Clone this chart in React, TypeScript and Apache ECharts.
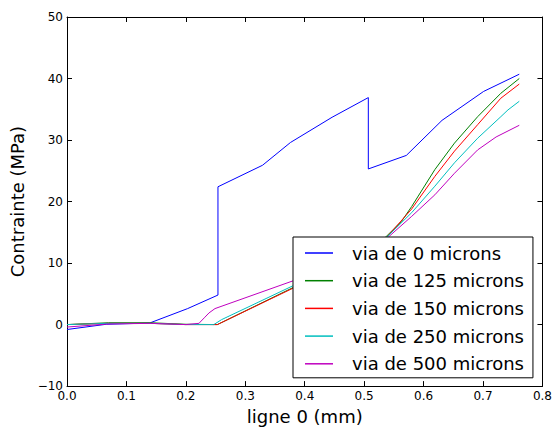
import React, { useEffect, useRef } from "react";
import * as echarts from "echarts";

const seriesNames = [
  "via de 0 microns",
  "via de 125 microns",
  "via de 150 microns",
  "via de 250 microns",
  "via de 500 microns",
];

const via0: [number, number][] = [
  [0, -0.8], [0.066, 0.05], [0.139, 0.25], [0.203, 2.6], [0.254, 4.8],
  [0.254, 22.4], [0.329, 25.9], [0.376, 29.6], [0.446, 33.7], [0.507, 36.9],
  [0.507, 25.3], [0.571, 27.5], [0.631, 33.2], [0.701, 37.9], [0.761, 40.7],
];

const via125: [number, number][] = [
  [0, 0], [0.07, 0.3], [0.14, 0.3], [0.2, 0.05], [0.253, 0], [0.38, 6.0],
  [0.46, 9.8], [0.52, 12.8], [0.538, 14.4], [0.563, 16.8], [0.58, 19.2],
  [0.619, 25.2], [0.652, 29.5], [0.691, 33.8], [0.73, 37.6], [0.761, 40.0],
];

const via150: [number, number][] = [
  [0, 0], [0.07, 0.2], [0.14, 0.2], [0.2, 0], [0.253, 0], [0.38, 5.9],
  [0.46, 9.6], [0.52, 12.7], [0.538, 14.2], [0.58, 18.8], [0.619, 24.1],
  [0.652, 28.2], [0.691, 32.5], [0.73, 36.8], [0.761, 39.1],
];

const via250: [number, number][] = [
  [0, 0], [0.07, 0.2], [0.14, 0.2], [0.2, 0], [0.247, 0], [0.26, 0.8],
  [0.38, 6.3], [0.46, 9.8], [0.52, 12.8], [0.538, 14.2], [0.58, 18.2],
  [0.619, 22.5], [0.652, 26.3], [0.691, 30.3], [0.73, 33.8], [0.742, 34.9],
  [0.761, 36.3],
];

const via500: [number, number][] = [
  [0, -0.4], [0.07, 0.1], [0.14, 0.2], [0.2, 0], [0.222, 0.2], [0.231, 1.1],
  [0.239, 1.9], [0.249, 2.6], [0.38, 7.1], [0.46, 10.0], [0.52, 12.7],
  [0.538, 14.0], [0.58, 17.6], [0.619, 21.1], [0.652, 24.6], [0.691, 28.4],
  [0.722, 30.5], [0.761, 32.4],
];

const seriesData = [via0, via125, via150, via250, via500];
const colors = ["#0000ff", "#008000", "#ff0000", "#00bfbf", "#bf00bf"];

const FONT = "DejaVu Sans";

export default function App() {
  const ref = useRef<HTMLDivElement>(null);
  useEffect(() => {
    if (!ref.current) return;
    const chart = echarts.init(ref.current, null, { renderer: "svg" });
    const tickStyle = { show: true, inside: true, length: 5, lineStyle: { color: "#000", width: 1 } };
    const lineStyle = { show: true, onZero: false, lineStyle: { color: "#000", width: 1 } };
    chart.setOption({
      animation: false,
      backgroundColor: "#fff",
      grid: { left: 67, right: 10, top: 17, bottom: 43, containLabel: false },
      legend: {
        orient: "vertical",
        left: 293,
        top: 237,
        width: 243,
        padding: [7, 9, 5, 12],
        itemGap: 9.7,
        itemWidth: 28,
        itemHeight: 1.5,
        icon: "rect",
        backgroundColor: "#fff",
        borderColor: "#000",
        borderWidth: 1,
        borderRadius: 0,
        data: seriesNames,
        textStyle: {
          fontFamily: FONT,
          fontSize: 18,
          lineHeight: 18,
          color: "#000",
          padding: [0, 0, 0, 14],
        },
      },
      xAxis: [
        {
          type: "value",
          min: 0,
          max: 0.8,
          interval: 0.1,
          position: "bottom",
          name: "ligne 0 (mm)",
          nameLocation: "middle",
          nameGap: 20,
          nameTextStyle: { fontFamily: FONT, fontSize: 18, color: "#000" },
          axisLine: lineStyle,
          axisTick: tickStyle,
          splitLine: { show: false },
          axisLabel: {
            fontFamily: FONT,
            fontSize: 12,
            color: "#000",
            margin: 4,
            formatter: (v: number) => v.toFixed(1),
          },
        },
        {
          type: "value",
          min: 0,
          max: 0.8,
          interval: 0.1,
          position: "top",
          axisLine: lineStyle,
          axisTick: tickStyle,
          splitLine: { show: false },
          axisLabel: { show: false },
        },
      ],
      yAxis: [
        {
          type: "value",
          min: -10,
          max: 50,
          interval: 10,
          position: "left",
          name: "Contrainte (MPa)",
          nameLocation: "middle",
          nameGap: 24,
          nameRotate: 90,
          nameTextStyle: { fontFamily: FONT, fontSize: 18, color: "#000" },
          axisLine: lineStyle,
          axisTick: tickStyle,
          splitLine: { show: false },
          axisLabel: {
            fontFamily: FONT,
            fontSize: 12,
            color: "#000",
            margin: 4,
            formatter: (v: number) => String(v).replace("-", "\u2212"),
          },
        },
        {
          type: "value",
          min: -10,
          max: 50,
          interval: 10,
          position: "right",
          axisLine: lineStyle,
          axisTick: tickStyle,
          splitLine: { show: false },
          axisLabel: { show: false },
        },
      ],
      series: seriesData.map((d, i) => ({
        name: seriesNames[i],
        type: "line",
        data: d,
        xAxisIndex: 0,
        yAxisIndex: 0,
        symbol: "none",
        showSymbol: false,
        color: colors[i],
        lineStyle: { color: colors[i], width: 1 },
        z: 2,
      })),
    });
    return () => chart.dispose();
  }, []);
  return (
    <div
      ref={ref}
      style={{ position: "fixed", left: 0, top: 0, width: 555, height: 430 }}
    />
  );
}
